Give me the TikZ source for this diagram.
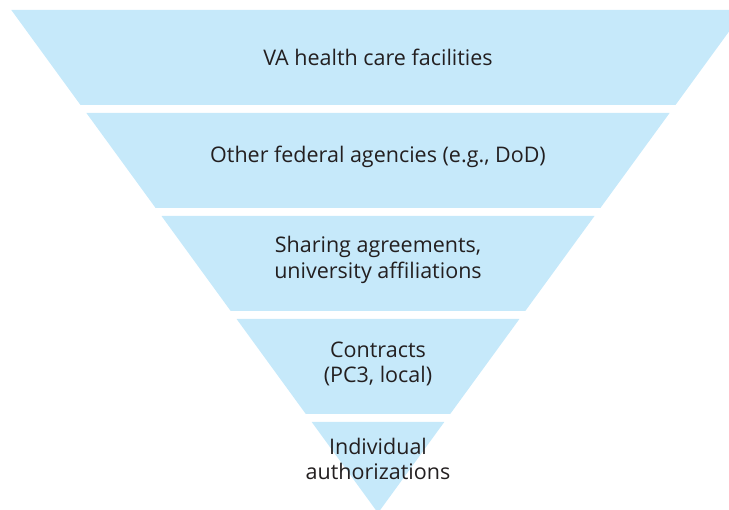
\documentclass[tikz,border=0pt]{standalone}
\usepackage{fontspec}
\setmainfont{Open Sans}
\definecolor{bandblue}{RGB}{198,233,250}
\definecolor{inktext}{RGB}{35,31,32}
\begin{document}
\begin{tikzpicture}[x=1pt,y=-1pt,
  band/.style={fill=bandblue,draw=none},
  lbl/.style={text=inktext,font=\fontsize{21.5}{25.5}\selectfont,align=center,inner sep=0pt}]
\useasboundingbox (0,0) rectangle (729,510);
\clip (0,0) rectangle (729,510);
\fill[band] (11.3,10) -- (744.7,10) -- (675.5,105) -- (80.5,105) -- cycle;
\fill[band] (86.4,113) -- (669.6,113) -- (600.4,208) -- (155.6,208) -- cycle;
\fill[band] (161.5,216) -- (594.5,216) -- (525.3,311) -- (230.7,311) -- cycle;
\fill[band] (236.6,319) -- (519.4,319) -- (450.2,414) -- (305.8,414) -- cycle;
\fill[band] (311.7,422) -- (444.3,422) -- (378,513) -- cycle;
\node[lbl] (n1) at (378,57.5) {VA health care facilities};
\node[lbl] (n2) at (378,157) {Other federal agencies (e.g., DoD)};
\node[lbl] (n3) at (378,260) {Sharing agreements,\\university affiliations};
\node[lbl] (n4) at (378,364) {Contracts\\(PC3, local)};
\node[lbl] (n5) at (378,459) {Individual\\authorizations};
\end{tikzpicture}
\end{document}
